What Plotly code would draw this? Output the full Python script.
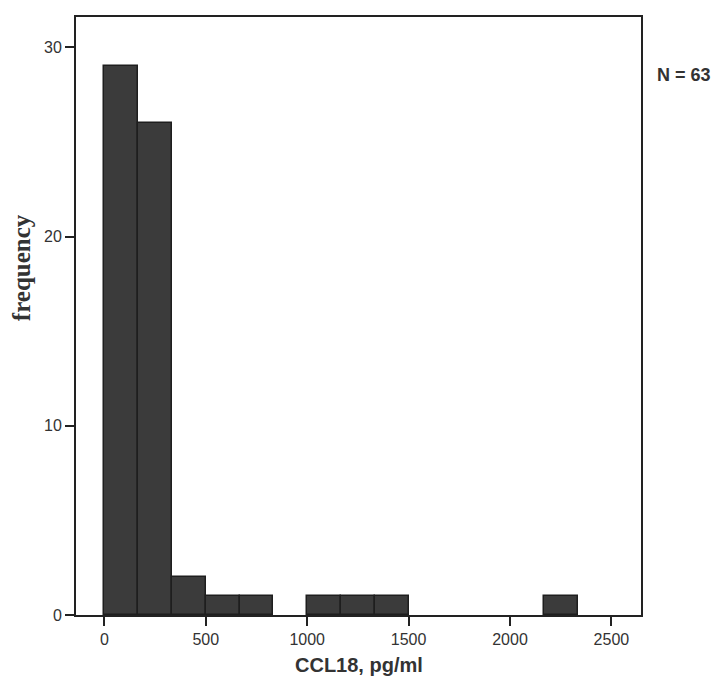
import plotly.graph_objects as go

bin_width = 2500 / 15
bin_index = [0, 1, 2, 3, 4, 6, 7, 8, 13]
counts = [29, 26, 2, 1, 1, 1, 1, 1, 1]
x_ticks = [0, 500, 1000, 1500, 2000, 2500]
y_ticks = [0, 10, 20, 30]

centers = [(i + 0.5) * bin_width for i in bin_index]

fig = go.Figure()
fig.add_trace(go.Bar(
    x=centers, y=counts, width=[bin_width] * len(centers),
    marker=dict(color="#3b3b3b", line=dict(color="#1e1e1e", width=1.5)),
    showlegend=False,
))

axis_common = dict(
    ticks="outside", tickwidth=2, tickcolor="#222", showgrid=False,
    zeroline=False, showline=True, linecolor="#222", linewidth=2, mirror=True,
    tickfont=dict(size=16, color="#333", family="Liberation Sans, Arial"),
)

fig.update_layout(
    width=728, height=691,
    margin=dict(l=68, r=95, t=7, b=84),
    paper_bgcolor="white", plot_bgcolor="white",
    font=dict(family="Liberation Sans, Arial", color="#333333"),
    bargap=0,
    xaxis=dict(range=[-140, 2646], tickvals=x_ticks, ticklen=9, **axis_common),
    yaxis=dict(range=[0, 31.6], tickvals=y_ticks, ticklen=9, **axis_common),
    annotations=[
        dict(text="<b>N = 63</b>", xref="paper", yref="paper", x=1.0248, y=0.903,
             xanchor="left", yanchor="middle", showarrow=False,
             font=dict(size=18, color="#333")),
        dict(text="<b>CCL18, pg/ml</b>", xref="paper", yref="paper", x=0.5, y=-0.0833,
             xanchor="center", yanchor="middle", showarrow=False,
             font=dict(size=20, color="#333")),
        dict(text="<b>frequency</b>", xref="paper", yref="paper", x=0, y=0.58,
             xshift=-55, xanchor="center", yanchor="middle", textangle=-90,
             showarrow=False,
             font=dict(size=25, family="Liberation Serif, Times New Roman", color="#333")),
    ],
)

fig.write_html("out.html")
